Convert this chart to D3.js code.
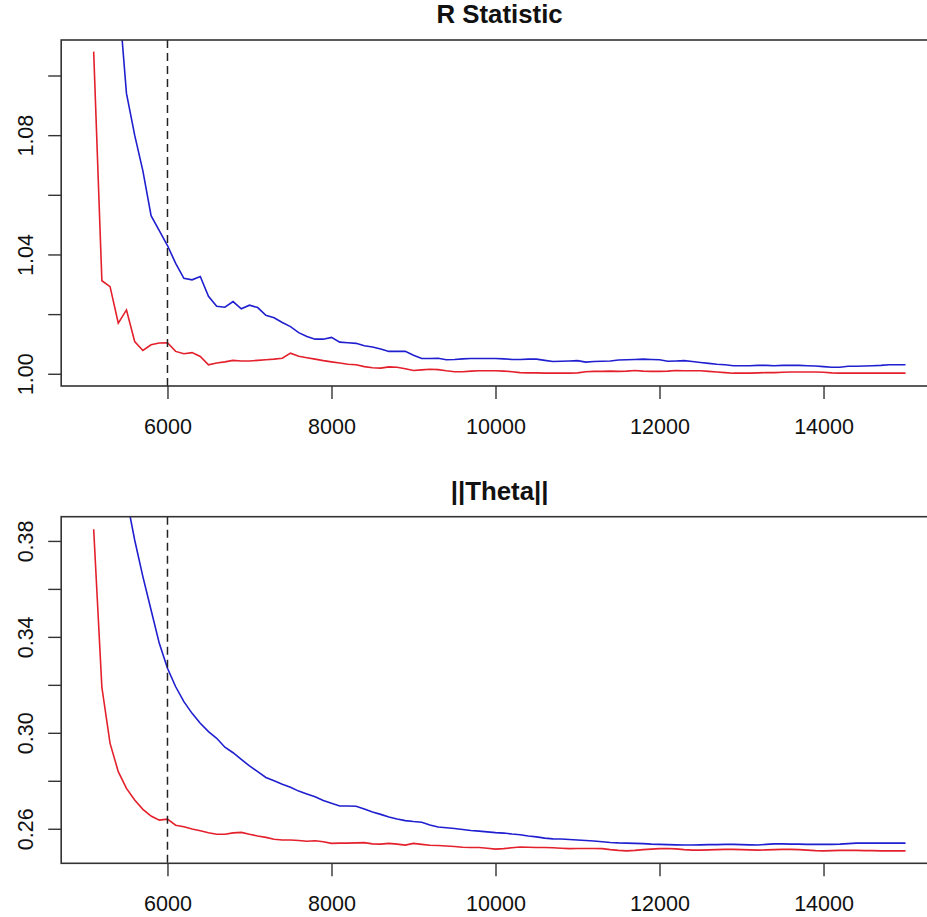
<!DOCTYPE html>
<html>
<head>
<meta charset="utf-8">
<script src="https://cdn.jsdelivr.net/npm/d3@7"></script>
<style>
  body { margin: 0; background: #fff; }
  svg { display: block; font-family: "Liberation Sans", Arial, Helvetica, sans-serif; }
</style>
</head>
<body>
<svg id="chart" width="927" height="917"></svg>
<script>
// iterations 5100..15000, one value every 100
var iterations = d3.range(5100, 15001, 100);
var cutoff = 6000;

// R statistic
var rstatRed = [
  1.108, 1.0312, 1.0292, 1.0170, 1.0214, 1.0108, 1.0078, 1.0097, 1.0103, 1.0104,
  1.0075, 1.0067, 1.0071, 1.0058, 1.0030, 1.0036, 1.0040, 1.0045, 1.0043, 1.0043,
  1.0045, 1.0047, 1.0049, 1.0052, 1.0069, 1.0059, 1.0054, 1.0049, 1.0044, 1.0040,
  1.0036, 1.0032, 1.0030, 1.0024, 1.0020, 1.0019, 1.0023, 1.0022, 1.0017, 1.0011,
  1.0013, 1.0015, 1.0014, 1.0010, 1.0007, 1.0007, 1.0009, 1.0010, 1.0010, 1.0010,
  1.0009, 1.0007, 1.0004, 1.0003, 1.0003, 1.0002, 1.0002, 1.0002, 1.0002, 1.0003,
  1.0007, 1.0008, 1.0008, 1.0009, 1.0008, 1.0009, 1.0011, 1.0009, 1.0008, 1.0008,
  1.0009, 1.0011, 1.0010, 1.0010, 1.0010, 1.0008, 1.0006, 1.0004, 1.0002, 1.0002,
  1.0002, 1.0003, 1.0004, 1.0004, 1.0005, 1.0006, 1.0006, 1.0006, 1.0006, 1.0005,
  1.0003, 1.0002, 1.0002, 1.0002, 1.0002, 1.0002, 1.0002, 1.0002, 1.0002, 1.0002
];
var rstatBlue = [
  1.28, 1.22, 1.17, 1.128, 1.094, 1.080, 1.068, 1.053, 1.048, 1.043,
  1.037, 1.032, 1.0315, 1.0326, 1.026, 1.0226, 1.0223, 1.0242, 1.0218, 1.0230,
  1.0222, 1.0196, 1.0188, 1.0172, 1.0158, 1.0138, 1.0125, 1.0116, 1.0116, 1.0122,
  1.0106, 1.0104, 1.0102, 1.0094, 1.0090, 1.0083, 1.0075, 1.0075, 1.0075, 1.0062,
  1.0051, 1.0051, 1.0052, 1.0047, 1.0048, 1.0050, 1.0051, 1.0051, 1.0051, 1.0051,
  1.0050, 1.0048, 1.0048, 1.0049, 1.0049, 1.0045, 1.0041, 1.0042, 1.0043, 1.0044,
  1.0039, 1.0041, 1.0042, 1.0043, 1.0046, 1.0047, 1.0048, 1.0049, 1.0048, 1.0047,
  1.0042, 1.0043, 1.0044, 1.0041, 1.0038, 1.0035, 1.0032, 1.0030, 1.0027, 1.0027,
  1.0027, 1.0028, 1.0028, 1.0027, 1.0028, 1.0028, 1.0028, 1.0027, 1.0026, 1.0024,
  1.0022, 1.0022, 1.0025, 1.0025, 1.0026, 1.0027, 1.0028, 1.0030, 1.0030, 1.0030
];

// ||Theta||
var thetaRed = [
  0.3849, 0.319, 0.2956, 0.2838, 0.2768, 0.2720, 0.2681, 0.2653, 0.2636, 0.2640,
  0.2615, 0.2608, 0.2599, 0.2592, 0.2583, 0.2577, 0.2577, 0.2583, 0.2585, 0.2577,
  0.2570, 0.2564, 0.2556, 0.2553, 0.2553, 0.2551, 0.2548, 0.2550, 0.2546, 0.2539,
  0.2540, 0.2540, 0.2541, 0.2542, 0.2537, 0.2536, 0.2539, 0.2536, 0.2532, 0.2539,
  0.2535, 0.2531, 0.2530, 0.2528, 0.2526, 0.2523, 0.2522, 0.2522, 0.2519, 0.2515,
  0.2517, 0.2521, 0.2524, 0.2523, 0.2522, 0.2522, 0.2521, 0.2519, 0.2517, 0.2518,
  0.2518, 0.2518, 0.2517, 0.2513, 0.2510, 0.2508, 0.2510, 0.2513, 0.2515, 0.2517,
  0.2518, 0.2516, 0.2513, 0.2511, 0.2511, 0.2512, 0.2513, 0.2514, 0.2514, 0.2513,
  0.2512, 0.2511, 0.2512, 0.2513, 0.2514, 0.2514, 0.2513, 0.2511, 0.2509, 0.2508,
  0.2509, 0.2510, 0.2510, 0.2510, 0.2509, 0.2509, 0.2508, 0.2508, 0.2508, 0.2508
];
var thetaBlue = [
  0.58, 0.51, 0.46, 0.425, 0.398, 0.3804, 0.3651, 0.3512, 0.3373, 0.3269,
  0.3192, 0.3130, 0.3081, 0.3040, 0.3005, 0.2977, 0.2940, 0.2917, 0.2889, 0.2862,
  0.2838, 0.2814, 0.2800, 0.2786, 0.2773, 0.2757, 0.2745, 0.2733, 0.2718, 0.2706,
  0.2695, 0.2695, 0.2694, 0.2682, 0.2670, 0.2660, 0.2649, 0.2641, 0.2634, 0.2630,
  0.2627, 0.2616, 0.2607, 0.2604, 0.2601, 0.2597, 0.2593, 0.2590, 0.2587, 0.2584,
  0.2582, 0.2578, 0.2575, 0.2570, 0.2566, 0.2561, 0.2558, 0.2557, 0.2555, 0.2553,
  0.2551, 0.2549, 0.2546, 0.2543, 0.2541, 0.2540, 0.2539, 0.2538, 0.2536, 0.2535,
  0.2534, 0.2533, 0.2532, 0.2532, 0.2533, 0.2534, 0.2534, 0.2535, 0.2535, 0.2534,
  0.2533, 0.2532, 0.2535, 0.2537, 0.2537, 0.2536, 0.2536, 0.2535, 0.2535, 0.2535,
  0.2535, 0.2536, 0.2538, 0.2540, 0.2540, 0.2540, 0.2540, 0.2540, 0.2540, 0.2540
];

var xTicks = [6000, 8000, 10000, 12000, 14000];
var rTicks = [1.00, 1.02, 1.04, 1.06, 1.08, 1.10];
var rTickLabels = ["1.00", "", "1.04", "", "1.08", ""];
var thetaTicks = [0.26, 0.28, 0.30, 0.32, 0.34, 0.36, 0.38];
var thetaTickLabels = ["0.26", "", "0.30", "", "0.34", "", "0.38"];

var svg = d3.select("#chart");

var x = d3.scaleLinear()
    .domain([4704, 15396])
    .range([61.2, 938]);

function drawPanel(opts) {
    var y = d3.scaleLinear().domain(opts.ylim).range([opts.bottom, opts.top]);

    var clipId = "clip-" + opts.id;
    svg.append("clipPath").attr("id", clipId)
        .append("rect")
        .attr("x", x.range()[0]).attr("y", opts.top)
        .attr("width", x.range()[1] - x.range()[0])
        .attr("height", opts.bottom - opts.top);

    var plot = svg.append("g").attr("clip-path", "url(#" + clipId + ")");

    var line = d3.line()
        .x(function(d, i) { return x(iterations[i]); })
        .y(function(d) { return y(d); });

    plot.append("path")
        .datum(opts.blue)
        .attr("d", line)
        .attr("fill", "none")
        .attr("stroke", "#1f1fd0")
        .attr("stroke-width", 1.6);

    plot.append("path")
        .datum(opts.red)
        .attr("d", line)
        .attr("fill", "none")
        .attr("stroke", "#e3202c")
        .attr("stroke-width", 1.6);

    // burn-in marker
    plot.append("line")
        .attr("x1", x(cutoff)).attr("x2", x(cutoff))
        .attr("y1", opts.top).attr("y2", opts.bottom)
        .attr("stroke", "#222")
        .attr("stroke-width", 1.5)
        .attr("stroke-dasharray", "8,5");

    // x axis
    var xa = svg.append("g")
        .attr("transform", "translate(0," + opts.bottom + ")")
        .call(d3.axisBottom(x).tickValues(xTicks).tickSize(13).tickFormat(d3.format("d")));
    xa.select(".domain").remove();
    xa.selectAll("line").attr("stroke", "#333").attr("stroke-width", 1.4);
    xa.selectAll("text")
        .attr("y", 48).attr("dy", null)
        .attr("fill", "#111")
        .style("font-size", "21.5px");

    // y axis, labels turned like R's las=0
    var ya = svg.append("g")
        .attr("transform", "translate(" + x.range()[0] + ",0)")
        .call(d3.axisLeft(y).tickValues(opts.ticks).tickSize(13)
            .tickFormat(function(d, i) { return opts.labels[i]; }));
    ya.select(".domain").remove();
    ya.selectAll("line").attr("stroke", "#333").attr("stroke-width", 1.4);
    ya.selectAll("text")
        .attr("x", null).attr("dy", null)
        .attr("text-anchor", "middle")
        .attr("transform", "translate(-28,0) rotate(-90)")
        .attr("fill", "#111")
        .style("font-size", "21.5px");

    // box
    svg.append("rect")
        .attr("x", x.range()[0]).attr("y", opts.top)
        .attr("width", x.range()[1] - x.range()[0])
        .attr("height", opts.bottom - opts.top)
        .attr("fill", "none")
        .attr("stroke", "#333")
        .attr("stroke-width", 1.6);

    svg.append("text")
        .attr("x", (x.range()[0] + x.range()[1]) / 2)
        .attr("y", opts.top - 17)
        .attr("text-anchor", "middle")
        .attr("font-weight", "bold")
        .attr("fill", "#111")
        .style("font-size", "25.8px")
        .text(opts.title);
}

drawPanel({
    id: "r", title: "R Statistic",
    top: 40, bottom: 386,
    ylim: [0.9959, 1.1119],
    ticks: rTicks, labels: rTickLabels,
    red: rstatRed, blue: rstatBlue
});

drawPanel({
    id: "theta", title: "||Theta||",
    top: 516.7, bottom: 863.3,
    ylim: [0.2456, 0.3901],
    ticks: thetaTicks, labels: thetaTickLabels,
    red: thetaRed, blue: thetaBlue
});
</script>
</body>
</html>
